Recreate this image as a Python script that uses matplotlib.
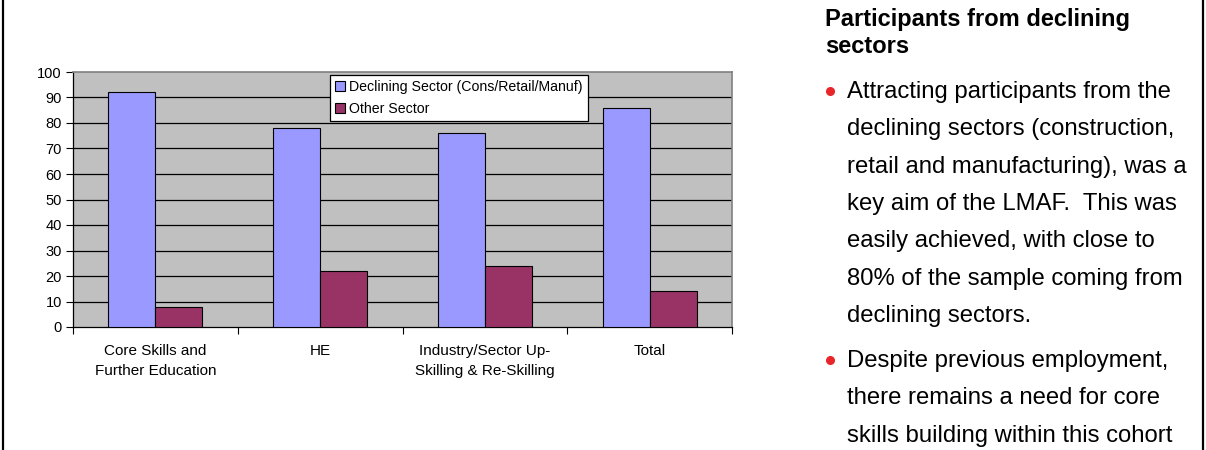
import matplotlib
matplotlib.use("Agg")
import matplotlib.pyplot as plt
import numpy as np
from matplotlib.lines import Line2D

plt.rcParams['font.family'] = ['Liberation Sans', 'DejaVu Sans']

categories = ["Core Skills and\nFurther Education", "HE",
              "Industry/Sector Up-\nSkilling & Re-Skilling", "Total"]
declining = [92, 78, 76, 86]
other = [8, 22, 24, 14]
series_names = ["Declining Sector (Cons/Retail/Manuf)", "Other Sector"]
yticks = [0, 10, 20, 30, 40, 50, 60, 70, 80, 90, 100]

heading = ["Participants from declining", "sectors"]
bullet1 = ["Attracting participants from the",
           "declining sectors (construction,",
           "retail and manufacturing), was a",
           "key aim of the LMAF.  This was",
           "easily achieved, with close to",
           "80% of the sample coming from",
           "declining sectors."]
bullet2 = ["Despite previous employment,",
           "there remains a need for core",
           "skills building within this cohort"]

W, H = 1206, 450
fig = plt.figure(figsize=(W / 100, H / 100), dpi=100)
fig.patch.set_facecolor("white")


def fx(px):
    return px / W


def fy(py):
    return 1 - py / H


# chart area
left, right, top, bottom = 73, 732, 72, 327
ax = fig.add_axes([fx(left), fy(bottom), fx(right - left), (bottom - top) / H])
ax.set_facecolor("#C0C0C0")

x = np.arange(len(categories))
w = 1 / 3.5
ax.bar(x - w / 2, declining, w, color="#9999FF", edgecolor="black", linewidth=0.8,
       label=series_names[0], zorder=3)
ax.bar(x + w / 2, other, w, color="#993366", edgecolor="black", linewidth=0.8,
       label=series_names[1], zorder=3)

ax.set_xlim(-0.5, len(categories) - 0.5)
ax.set_ylim(0, 100)
ax.set_yticks(yticks)
ax.set_yticklabels([str(v) for v in yticks], fontsize=10.5)
for v in yticks[1:-1]:
    ax.axhline(v, color="black", linewidth=0.9, zorder=1)

ax.set_xticks(np.arange(len(categories) + 1) - 0.5)
ax.set_xticklabels([])
ax.set_xticks(x, minor=True)
ax.set_xticklabels(categories, minor=True, fontsize=11, linespacing=1.55)
ax.tick_params(axis="x", which="minor", length=0, pad=12)
ax.tick_params(axis="x", which="major", length=5, width=0.8, direction="out")
ax.tick_params(axis="y", length=5, width=0.8, direction="out", pad=3)

for s in ["top", "right"]:
    ax.spines[s].set_color("#808080")
    ax.spines[s].set_linewidth(1.2)
for s in ["left", "bottom"]:
    ax.spines[s].set_color("black")
    ax.spines[s].set_linewidth(0.9)

leg = ax.legend(loc="upper left", bbox_to_anchor=(fx(330), fy(75)),
                bbox_transform=fig.transFigure, fontsize=10.2, frameon=True,
                fancybox=False, edgecolor="black", framealpha=1,
                handlelength=0.7, handleheight=0.7, handletextpad=0.3,
                borderpad=0.35, labelspacing=0.55, borderaxespad=0)
leg.get_frame().set_linewidth(0.9)

# slide frame lines
fig.add_artist(Line2D([fx(3.5), fx(3.5)], [0, 1], color="black", linewidth=1.6,
                      transform=fig.transFigure))
fig.add_artist(Line2D([fx(1202.5), fx(1202.5)], [0, 1], color="black", linewidth=1.6,
                      transform=fig.transFigure))

# commentary panel
fig.text(fx(825), fy(26), heading[0], fontsize=17, fontweight="bold", va="baseline")
fig.text(fx(825), fy(53), heading[1], fontsize=17, fontweight="bold", va="baseline")

step = 37.3
for i, line in enumerate(bullet1):
    fig.text(fx(847), fy(98 + i * step), line, fontsize=17.2, va="baseline")
for i, line in enumerate(bullet2):
    fig.text(fx(847), fy(367 + i * step), line, fontsize=17.2, va="baseline")
for yb in (91, 360):
    fig.add_artist(Line2D([fx(830)], [fy(yb)], marker="o", markersize=5.5,
                          color="#E8262A", transform=fig.transFigure))

fig.savefig("out.png", dpi=100)
